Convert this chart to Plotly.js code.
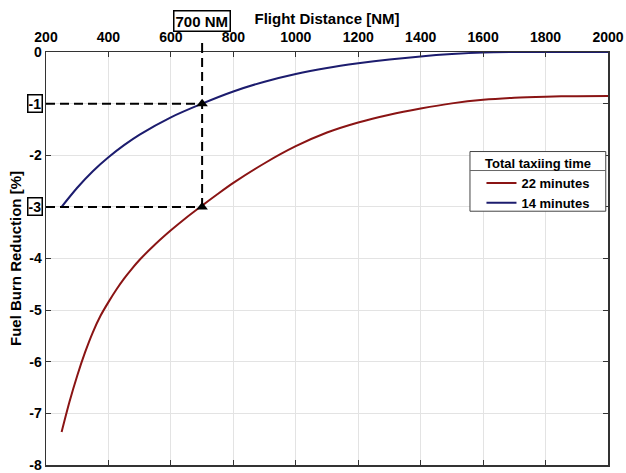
<!DOCTYPE html>
<html>
<head>
<meta charset="utf-8">
<script src="https://cdn.plot.ly/plotly-3.0.1.min.js"></script>
<style>html,body{margin:0;padding:0;background:#fff;}#chart{width:626px;height:473px;}</style>
</head>
<body>
<div id="chart"></div>
<script>
// Flight distance [NM] and fuel burn reduction [%]
const redName = '22 minutes';
const redX = [250, 275, 300, 325, 350, 375, 400, 425, 450, 475, 500, 550, 600, 650, 700, 750, 800, 900, 1000, 1100, 1200, 1300, 1400, 1500, 1600, 1700, 1800, 1900, 2000];
const redY = [-7.36, -6.78, -6.27, -5.82, -5.43, -5.105, -4.845, -4.605, -4.39, -4.2, -4.025, -3.725, -3.455, -3.205, -2.975, -2.75, -2.535, -2.155, -1.825, -1.56, -1.365, -1.215, -1.095, -0.995, -0.925, -0.885, -0.865, -0.855, -0.85];

const blueName = '14 minutes';
const blueX = [250, 300, 350, 400, 450, 500, 600, 700, 800, 900, 1000, 1100, 1200, 1300, 1400, 1500, 1600, 1700, 1800, 1900, 2000];
const blueY = [-3.0, -2.63, -2.31, -2.04, -1.805, -1.6, -1.265, -1.0, -0.765, -0.575, -0.425, -0.31, -0.22, -0.145, -0.085, -0.04, -0.01, -0.001, 0, 0, 0];

const markX = [700, 700];
const markY = [-1, -3];
const refDistance = 700;

const xTicks = [200, 400, 600, 800, 1000, 1200, 1400, 1600, 1800, 2000];
const yTicks = [0, -1, -2, -3, -4, -5, -6, -7, -8];
const yTickText = ['0', '', '-2', '', '-4', '-5', '-6', '-7', '-8'];
const boxedY = [-1, -3];
const legendTitle = 'Total taxiing time';

const F = 'Liberation Sans, Arial, sans-serif';

const traces = [
  {x: redX, y: redY, name: redName, mode: 'lines', line: {color: '#8a1414', width: 2, shape: 'spline', smoothing: 0.8}},
  {x: blueX, y: blueY, name: blueName, mode: 'lines', line: {color: '#1c1c6e', width: 2, shape: 'spline', smoothing: 0.8}},
  {x: markX, y: markY, mode: 'markers', showlegend: false, marker: {symbol: 'triangle-up', size: 10, color: '#000'}}
];

const dash = {color: '#000', width: 2, dash: '9px,5px'};
const shapes = [
  {type: 'line', xref: 'x', yref: 'y', x0: 200, x1: refDistance, y0: markY[0], y1: markY[0], line: dash},
  {type: 'line', xref: 'x', yref: 'y', x0: 200, x1: refDistance, y0: markY[1], y1: markY[1], line: dash},
  {type: 'line', xref: 'x', yref: 'y', x0: refDistance, x1: refDistance, y0: markY[1], y1: 0, line: dash},
  {type: 'line', xref: 'x', yref: 'paper', x0: refDistance, x1: refDistance, y0: 1, y1: 1.03, line: dash},
  // legend frame and title separator
  {type: 'rect', xref: 'paper', yref: 'paper', x0: 0.7544, x1: 0.996, y0: 0.6145, y1: 0.759, layer: 'above',
   fillcolor: '#fff', line: {color: '#444', width: 1}},
  {type: 'line', xref: 'paper', yref: 'paper', x0: 0.7544, x1: 0.996, y0: 0.713, y1: 0.713, layer: 'above',
   line: {color: '#666', width: 1}}
];

const annotations = boxedY.map(v => ({
  xref: 'paper', yref: 'y', x: 0, y: v, xanchor: 'right', yanchor: 'middle', xshift: -3,
  text: String(v), showarrow: false, bordercolor: '#000', borderwidth: 1.5, borderpad: 0, bgcolor: '#fff',
  font: {family: F, size: 14, color: '#000', weight: 'bold'}
}));
annotations.push({
  xref: 'x', yref: 'paper', x: refDistance, y: 1.075, xanchor: 'center', yanchor: 'middle',
  text: refDistance + ' NM', showarrow: false, bordercolor: '#000', borderwidth: 1.5, borderpad: 1, bgcolor: '#fff',
  font: {family: F, size: 15, color: '#000', weight: 'bold'}
});

const layout = {
  width: 626, height: 473,
  margin: {l: 46, r: 18, t: 52, b: 8},
  paper_bgcolor: '#fff', plot_bgcolor: '#fff',
  font: {family: F, color: '#000', weight: 'bold'},
  xaxis: {
    range: [200, 2000], side: 'top', tickvals: xTicks,
    ticks: 'inside', ticklen: 5, tickcolor: '#333', mirror: 'ticks',
    showline: true, linecolor: '#333', linewidth: 1.5,
    showgrid: true, gridcolor: '#e3e3e3', gridwidth: 1, zeroline: false,
    ticklabelstandoff: 3, ticklabeloverflow: 'allow',
    tickfont: {family: F, size: 14, color: '#000', weight: 'bold'},
    title: {text: 'Flight Distance [NM]', standoff: 0, font: {family: F, size: 15, color: '#000', weight: 'bold'}}
  },
  yaxis: {
    range: [-8, 0], tickvals: yTicks, ticktext: yTickText,
    ticks: 'inside', ticklen: 5, tickcolor: '#333', mirror: 'ticks',
    showline: true, linecolor: '#333', linewidth: 1.5,
    showgrid: true, gridcolor: '#e3e3e3', gridwidth: 1, zeroline: false,
    ticklabeloverflow: 'allow',
    tickfont: {family: F, size: 14, color: '#000', weight: 'bold'},
    title: {text: 'Fuel Burn Reduction [%]', standoff: 4, font: {family: F, size: 15, color: '#000', weight: 'bold'}}
  },
  legend: {
    x: 0.8754, y: 0.76, xanchor: 'center', yanchor: 'top',
    bgcolor: 'rgba(0,0,0,0)', borderwidth: 0,
    title: {text: legendTitle, side: 'top center', font: {family: F, size: 13, color: '#000', weight: 'bold'}},
    font: {family: F, size: 13, color: '#000', weight: 'bold'},
    tracegroupgap: 0, itemwidth: 30
  },
  shapes: shapes,
  annotations: annotations,
  showlegend: true
};

Plotly.newPlot('chart', traces, layout, {displayModeBar: false, staticPlot: true});
</script>
</body>
</html>
